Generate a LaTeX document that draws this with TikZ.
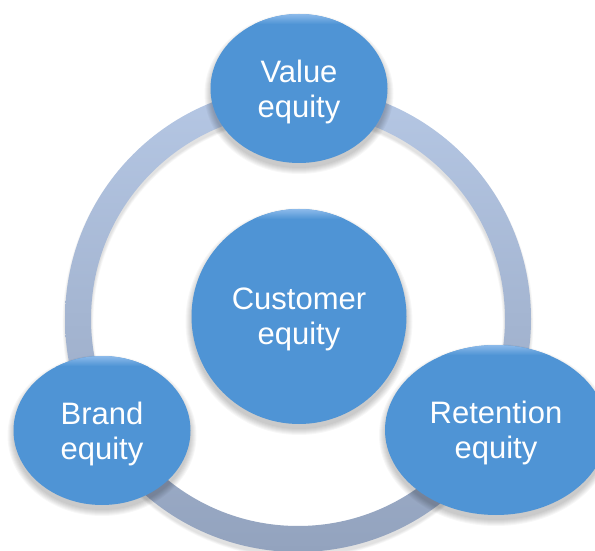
\documentclass[tikz,border=0pt]{standalone}
\usepackage{fontspec}
\setmainfont{Liberation Sans}
\usetikzlibrary{shapes.geometric}
\definecolor{bub}{HTML}{4F94D5}
\definecolor{bubhi}{HTML}{8CBAEA}
\definecolor{ringtop}{HTML}{B5C7E4}
\definecolor{ringbot}{HTML}{93A3BE}
\newcommand\mybubble[6]{%
  \foreach \k in {0,...,6} \fill[black,opacity=0.03] (#2,#3-5) ellipse ({#4+\k} and {#5+\k});
  \node[bubble, minimum width=2*#4pt, minimum height=2*#5pt] (#1) at (#2,#3) {};
  \begin{scope}
    \clip (#2,#3) ellipse ({#4} and {#5});
    \shade[top color=bubhi, bottom color=bub] (#2-#4,#3+#5) rectangle (#2+#4,#3+#5-10);
  \end{scope}
  \node[bubtext] (#1-text) at ([yshift=-3pt]#1.center) {#6};
}
\begin{document}
\begin{tikzpicture}[x=1pt,y=1pt,
  bubble/.style={ellipse, fill=bub, inner sep=0pt, outer sep=0pt},
  bubtext/.style={inner sep=0pt, text=white, align=center, font=\fontsize{31}{35}\selectfont}
]
\useasboundingbox (0,0) rectangle (595,550);
\fill[white] (0,0) rectangle (595,550);
% ring shadow
\foreach \k in {0,...,4} \fill[black,opacity=0.025,even odd rule] (298,227) circle ({233+\k*0.6}) (298,227) circle ({207-\k*0.6});
% ring
\shade[top color=ringtop, bottom color=ringbot, even odd rule] (298,231) circle (233) (298,231) circle (207);
\mybubble{val}{299}{461.5}{88.5}{74.5}{Value\\equity}
\mybubble{cust}{299}{233.5}{107.5}{107.5}{Customer\\equity}
\mybubble{brand}{102}{119.5}{88.5}{74.5}{Brand\\equity}
\mybubble{ret}{496}{120}{111}{85}{Retention\\equity}
\end{tikzpicture}
\end{document}
